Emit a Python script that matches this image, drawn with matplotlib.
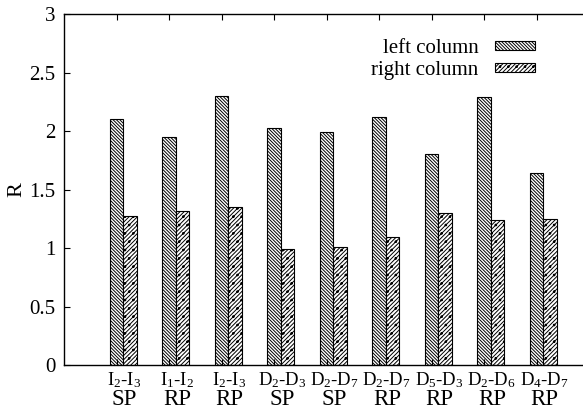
import matplotlib
matplotlib.use("Agg")
from matplotlib import pyplot as plt
import numpy as np

# pairs and panel type for each group
pairs = ["I$_2$-I$_3$", "I$_1$-I$_2$", "I$_2$-I$_3$", "D$_2$-D$_3$", "D$_2$-D$_7$",
         "D$_2$-D$_7$", "D$_5$-D$_3$", "D$_2$-D$_6$", "D$_4$-D$_7$"]
kinds = ["SP", "RP", "RP", "SP", "SP", "RP", "RP", "RP", "RP"]
left_col = [2.10, 1.95, 2.30, 2.03, 1.99, 2.12, 1.80, 2.29, 1.64]
right_col = [1.27, 1.32, 1.35, 0.99, 1.01, 1.09, 1.30, 1.24, 1.25]

plt.rcParams["font.family"] = "Liberation Serif"
plt.rcParams["mathtext.default"] = "regular"
plt.rcParams["hatch.linewidth"] = 0.7

fig = plt.figure(figsize=(5.83, 4.12), dpi=100)
ax = fig.add_axes([0.1098, 0.114, 0.9005, 0.852])

x = np.arange(1, len(pairs) + 1)
w = 0.26
ax.bar(x, left_col, w, color="white", edgecolor="black", hatch="\\" * 10, linewidth=0.8,
       label="left column")
ax.bar(x + w, right_col, w, color="white", edgecolor="black", hatch="/" * 8 + "..", linewidth=0.8,
       label="right column")

ax.set_xlim(0, 10)
ax.set_ylim(0, 3)
ax.set_yticks([0, 0.5, 1, 1.5, 2, 2.5, 3])
ax.set_yticklabels(["0", "0.5", "1", "1.5", "2", "2.5", "3"], fontsize=15)
ax.set_xticks(x)
ax.set_xticklabels([])
ax.tick_params(direction="in", top=True, right=True, length=4, width=0.8, pad=6)
for s in ax.spines.values():
    s.set_linewidth(1)

tr = ax.get_xaxis_transform()
for xi, p, k in zip(x, pairs, kinds):
    ax.text(xi + 0.15, -0.057, p, transform=tr, ha="center", va="baseline", fontsize=13.5)
    ax.text(xi + 0.15, -0.114, k, transform=tr, ha="center", va="baseline", fontsize=16.5)

ax.set_ylabel("R", fontsize=16, labelpad=2)

ax.legend(loc="upper right", bbox_to_anchor=(0.935, 0.93), bbox_transform=fig.transFigure,
          frameon=False, markerfirst=False, fontsize=15, handlelength=1.9,
          handleheight=0.3, handletextpad=0.8, labelspacing=0.15, borderpad=0)

plt.savefig("out.png", dpi=100)
